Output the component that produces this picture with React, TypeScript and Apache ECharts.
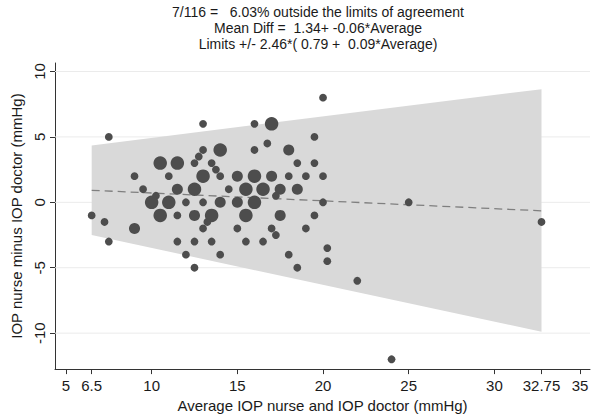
import React, { useEffect, useRef } from "react";
import * as echarts from "echarts";

const titleLines = [
  "7/116 =   6.03% outside the limits of agreement",
  "Mean Diff =  1.34+ -0.06*Average",
  "Limits +/- 2.46*( 0.79 +  0.09*Average)",
];
const xTitle = "Average IOP nurse and IOP doctor (mmHg)";
const yTitle = "IOP nurse minus IOP doctor (mmHg)";

const xTicks = [5, 6.5, 10, 15, 20, 25, 30, 32.75, 35];
const yTicks = [-10, -5, 0, 5, 10];

const avgValues = [
  7.5, 13, 16, 17, 20, 19.5, 13, 12.75, 14, 16,
  16.75, 18, 10.5, 11.5, 12.5, 13.5, 18.5, 19.5, 13.75, 9,
  11, 13, 14, 15, 16, 17, 18, 19, 20, 9.5,
  11.5, 12.5, 14.5, 15.5, 16.5, 17.5, 18.5, 10.25, 17.25, 10,
  11, 12, 13, 14, 15, 16, 20, 25, 6.5, 10.5,
  11.5, 12.5, 13.5, 15.5, 17.5, 19.5, 7.25, 13.25, 32.75, 9,
  13, 15, 17, 19, 17.25, 7.5, 11.5, 12.5, 13.5, 15.5,
  16.5, 20.25, 12, 14, 18, 20.25, 12.5, 18.5, 22, 24,
];
const diffValues = [
  5, 6, 6, 6, 8, 5, 4, 3.5, 4, 4,
  4.5, 4, 3, 3, 3, 3, 3, 3, 2.5, 2,
  2, 2, 2, 2, 2, 2, 2, 2, 2, 1,
  1, 1, 1, 1, 1, 1, 1, 0.5, 0.5, 0,
  0, 0, 0, 0, 0, 0, 0, 0, -1, -1,
  -1, -1, -1, -1, -1, -1, -1.5, -1.5, -1.5, -2,
  -2, -2, -2, -2, -2.5, -3, -3, -3, -3, -3,
  -3, -3.5, -4, -4, -4, -4.5, -5, -5, -6, -12,
];
const counts = [
  1, 1, 1, 3, 1, 1, 1, 1, 3, 1,
  1, 2, 3, 3, 1, 1, 1, 1, 1, 1,
  1, 3, 1, 2, 3, 2, 1, 1, 1, 1,
  2, 3, 1, 3, 3, 2, 2, 1, 1, 3,
  3, 1, 1, 2, 2, 3, 1, 1, 1, 3,
  1, 2, 3, 3, 2, 1, 1, 1, 1, 2,
  1, 1, 1, 1, 1, 1, 1, 1, 1, 1,
  1, 1, 1, 1, 1, 1, 1, 1, 1, 1,
];

const bandX = [6.5, 32.75];
const bandUpper = [4.35, 8.65];
const bandLower = [-2.5, -9.9];
const meanLine = [0.92, -0.65];

const X_MIN = 4.36;
const X_MAX = 35.58;
const Y_MIN = -12.75;
const Y_MAX = 10.65;

const FONT = "Liberation Sans, Arial, Helvetica, sans-serif";
const TEXT = "#1a1a1a";
const AXIS = "#333333";

export default function App() {
  const ref = useRef<HTMLDivElement>(null);

  useEffect(() => {
    document.body.style.margin = "0";
    if (!ref.current) return;
    const chart = echarts.init(ref.current, null, { renderer: "svg" });

    const scatterData = avgValues.map((a, i) => [a, diffValues[i], counts[i]]);
    const bandData = bandX.map((x, i) => [x, bandUpper[i], bandLower[i]]);
    const gridData = yTicks.map((v) => [X_MIN, v]);
    const lineData = bandX.map((x, i) => [x, meanLine[i]]);

    chart.setOption({
      animation: false,
      backgroundColor: "#ffffff",
      graphic: [
        {
          type: "text",
          x: 318,
          y: 4,
          z: 10,
          style: {
            text: titleLines.join("\n"),
            fontSize: 14,
            fontFamily: FONT,
            fill: TEXT,
            align: "center",
            verticalAlign: "top",
            lineHeight: 16,
          },
        },
      ],
      grid: { left: 55, right: 6, top: 63, bottom: 43, containLabel: false },
      xAxis: {
        type: "value",
        min: X_MIN,
        max: X_MAX,
        name: xTitle,
        nameLocation: "middle",
        nameGap: 27,
        nameTextStyle: { fontSize: 15, fontFamily: FONT, color: TEXT },
        axisLine: { onZero: false, lineStyle: { color: AXIS, width: 1 } },
        axisTick: { show: true, length: 5, customValues: xTicks, lineStyle: { color: AXIS } },
        axisLabel: {
          customValues: xTicks,
          fontSize: 15,
          fontFamily: FONT,
          color: TEXT,
          margin: 9,
        },
        splitLine: { show: false },
      },
      yAxis: {
        type: "value",
        min: Y_MIN,
        max: Y_MAX,
        name: yTitle,
        nameLocation: "middle",
        nameGap: 25,
        nameTextStyle: { fontSize: 15, fontFamily: FONT, color: TEXT },
        axisLine: { show: true, onZero: false, lineStyle: { color: AXIS, width: 1 } },
        axisTick: { show: true, length: 5, customValues: yTicks, lineStyle: { color: AXIS } },
        axisLabel: {
          customValues: yTicks,
          rotate: 90,
          fontSize: 15,
          fontFamily: FONT,
          color: TEXT,
          margin: 8,
        },
        splitLine: { show: false },
      },
      series: [
        {
          type: "custom",
          z: 1,
          silent: true,
          data: gridData,
          encode: { x: 0, y: 1 },
          renderItem: (params: any, api: any) => {
            const p = api.coord([api.value(0), api.value(1)]);
            const cs = params.coordSys;
            return {
              type: "line",
              shape: { x1: cs.x, y1: p[1], x2: cs.x + cs.width, y2: p[1] },
              style: { stroke: "#ebebeb", lineWidth: 1 },
            };
          },
        },
        {
          type: "custom",
          z: 2,
          silent: true,
          data: bandData,
          encode: { x: 0, y: 1 },
          renderItem: (params: any, api: any) => {
            if (params.dataIndex !== 0) return null;
            const pts = [
              api.coord([bandData[0][0], bandData[0][1]]),
              api.coord([bandData[1][0], bandData[1][1]]),
              api.coord([bandData[1][0], bandData[1][2]]),
              api.coord([bandData[0][0], bandData[0][2]]),
            ];
            return {
              type: "polygon",
              shape: { points: pts },
              style: { fill: "#d9d9d9" },
            };
          },
        },
        {
          type: "line",
          z: 3,
          silent: true,
          data: lineData,
          showSymbol: false,
          symbol: "none",
          lineStyle: { color: "#7f7f7f", width: 1.3, type: [8, 5] },
        },
        {
          type: "scatter",
          z: 4,
          data: scatterData,
          symbol: "circle",
          symbolSize: (v: number[]) => 7.8 * Math.sqrt(v[2]),
          itemStyle: { color: "#4d4d4d", opacity: 1 },
        },
      ],
    });

    return () => chart.dispose();
  }, []);

  return (
    <div
      ref={ref}
      style={{ position: "fixed", left: 0, top: 0, width: 596, height: 418 }}
    />
  );
}
